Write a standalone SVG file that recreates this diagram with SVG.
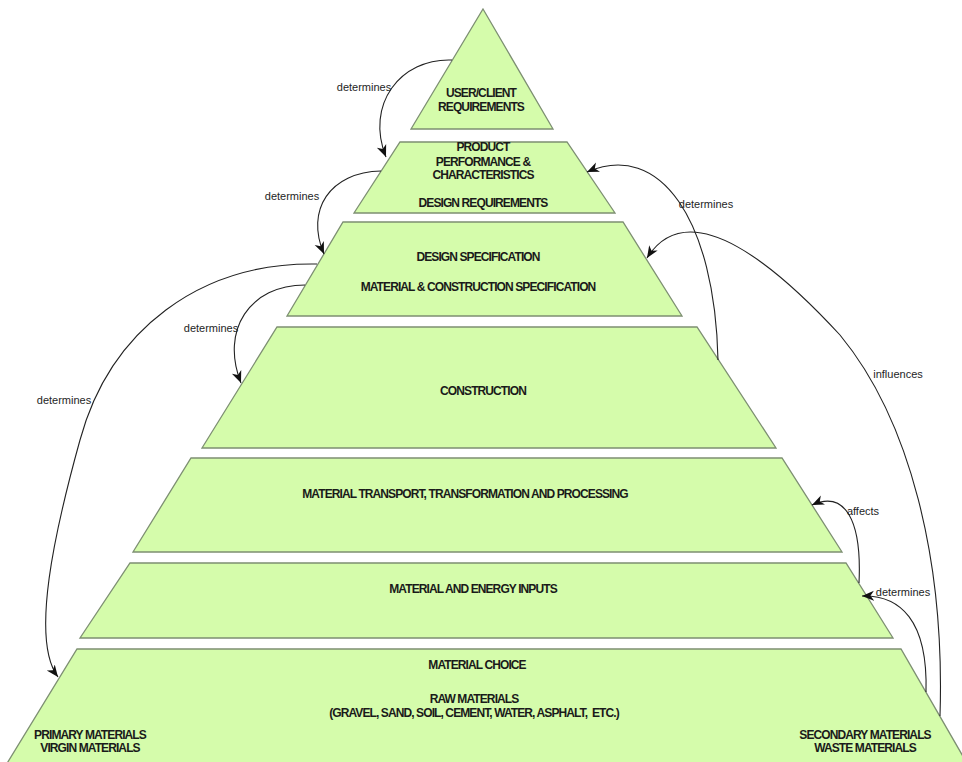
<svg xmlns="http://www.w3.org/2000/svg" width="962" height="762" viewBox="0 0 962 762">
<defs>
<style>
.lv{fill:#d5fcab;stroke:#7d8f72;stroke-width:1.3}
.t{font-family:"Liberation Sans",Arial,sans-serif;font-weight:bold;font-size:12px;letter-spacing:-0.9px;fill:#1a1a1a;text-anchor:middle}
.lb{font-family:"Liberation Sans",Arial,sans-serif;font-size:11px;fill:#1e1e1e;text-anchor:middle}
.c{fill:none;stroke:#222;stroke-width:1.1}
</style>
<marker id="ah" markerUnits="userSpaceOnUse" markerWidth="14" markerHeight="12" refX="12" refY="5" orient="auto" viewBox="0 0 14 10">
<path d="M0,0 L12,5 L0,10 L3.5,5 z" fill="#111"/>
</marker>
</defs>
<rect width="962" height="762" fill="#fff"/>
<g id="level-user">
<polygon class="lv" points="483,9 553,129 411,129"/>
<text class="t" x="481" y="97">USER/CLIENT</text>
<text class="t" x="481" y="111">REQUIREMENTS</text>
</g>
<g id="level-product">
<polygon class="lv" points="400,142 567,142 615,213 354,213"/>
<text class="t" x="483" y="151">PRODUCT</text>
<text class="t" x="483" y="166">PERFORMANCE &amp;</text>
<text class="t" x="483" y="179">CHARACTERISTICS</text>
<text class="t" x="483" y="207">DESIGN REQUIREMENTS</text>
</g>
<g id="level-design">
<polygon class="lv" points="343,222 623,222 682,316 287,316"/>
<text class="t" x="478" y="261">DESIGN SPECIFICATION</text>
<text class="t" x="478" y="291">MATERIAL &amp; CONSTRUCTION SPECIFICATION</text>
</g>
<g id="level-construction">
<polygon class="lv" points="277,327 697,327 776,448 202,448"/>
<text class="t" x="483" y="395">CONSTRUCTION</text>
</g>
<g id="level-transport">
<polygon class="lv" points="191,458 782,458 842,552 133,552"/>
<text class="t" x="465" y="498">MATERIAL TRANSPORT, TRANSFORMATION AND PROCESSING</text>
</g>
<g id="level-inputs">
<polygon class="lv" points="130,563 846,563 893,638 80,638"/>
<text class="t" x="473" y="593">MATERIAL AND ENERGY INPUTS</text>
</g>
<g id="level-choice">
<polygon class="lv" points="77,649 901,649 968,765 6,765"/>
<text class="t" x="477" y="669">MATERIAL CHOICE</text>
<text class="t" x="474" y="703">RAW MATERIALS</text>
<text class="t" x="474" y="717" xml:space="preserve" style="white-space:pre">(GRAVEL, SAND, SOIL, CEMENT, WATER, ASPHALT,  ETC.)</text>
<text class="t" x="90" y="739">PRIMARY MATERIALS</text>
<text class="t" x="90" y="752">VIRGIN MATERIALS</text>
<text class="t" x="865" y="739">SECONDARY MATERIALS</text>
<text class="t" x="865" y="752">WASTE MATERIALS</text>
</g>
<g id="connectors">
<path class="c" marker-end="url(#ah)" d="M452,60 C400,58 365,105 386,157"/>
<path class="c" marker-end="url(#ah)" d="M381,171 C330,172 305,210 324,254"/>
<path class="c" marker-end="url(#ah)" d="M305,285 C250,285 220,330 241,383"/>
<path class="c" marker-end="url(#ah)" d="M317,264 C200,262 110,330 80,440 C55,530 30,640 58,677"/>
<path class="c" marker-end="url(#ah)" d="M718,360 C715,220 660,140 587,172"/>
<path class="c" marker-end="url(#ah)" d="M940,716 C945,560 910,420 840,335 C780,270 690,190 647,258"/>
<path class="c" marker-end="url(#ah)" d="M859,583 C862,520 845,490 812,505"/>
<path class="c" marker-end="url(#ah)" d="M926,692 C928,620 900,595 862,596"/>
<text class="lb" x="364" y="91">determines</text>
<text class="lb" x="292" y="200">determines</text>
<text class="lb" x="211" y="332">determines</text>
<text class="lb" x="64" y="404">determines</text>
<text class="lb" x="706" y="208">determines</text>
<text class="lb" x="898" y="378">influences</text>
<text class="lb" x="863" y="515">affects</text>
<text class="lb" x="903" y="596">determines</text>
</g>
</svg>
